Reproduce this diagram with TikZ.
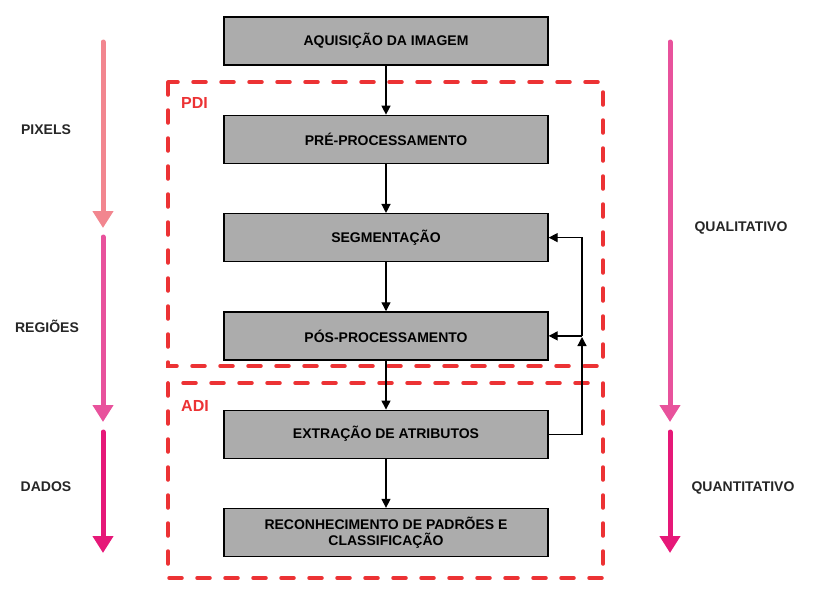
\documentclass[tikz,border=0pt]{standalone}
\usepackage{fontspec}
\setmainfont{Liberation Sans}
\usetikzlibrary{positioning,arrows.meta,calc}

\definecolor{boxgray}{RGB}{172,172,172}
\definecolor{dashred}{RGB}{236,50,52}
\definecolor{pinkA}{RGB}{242,134,143}
\definecolor{pinkB}{RGB}{232,82,156}
\definecolor{pinkC}{RGB}{230,24,120}

\begin{document}
\begin{tikzpicture}[
  x=1pt, y=-1pt,
  font=\fontsize{14}{16}\selectfont\bfseries,
  node distance=49pt,
  block/.style={draw=black, line width=1.3pt, fill=boxgray,
                minimum width=324pt, minimum height=48pt, align=center, inner sep=2pt},
  arr/.style={-{Triangle[length=9pt,width=9pt]}, line width=1.3pt},
  bigarr/.style={-{Triangle[length=17pt,width=20pt]}, line width=5pt, line cap=round},
  region/.style={draw=dashred, line width=3.5pt, dash pattern=on 13pt off 15pt, line cap=round},
  regionlbl/.style={text=dashred, font=\fontsize{16}{18}\selectfont\bfseries,
                anchor=west, inner sep=0pt},
  side/.style={text=black!85, inner sep=0pt}
]
\useasboundingbox (0,0) rectangle (814,592);

% ---- dashed regions ----
\draw[region] (168,82) rectangle (603,366);
\draw[region] (168,383) rectangle (603,578);
\node[regionlbl] (pdi) at (181,103) {PDI};
\node[regionlbl] (adi) at (181,406) {ADI};

% ---- processing chain ----
\node[block] (aquis) at (386,41) {AQUISIÇÃO DA IMAGEM};
\node[block, below=of aquis] (preproc) {PRÉ-PROCESSAMENTO};
\node[block, below=of preproc] (segm) {SEGMENTAÇÃO};
\node[block, below=of segm] (posproc) {PÓS-PROCESSAMENTO};
\node[block, below=of posproc] (extr) {EXTRAÇÃO DE ATRIBUTOS};
\node[block, below=of extr] (recon) {RECONHECIMENTO DE PADRÕES E\\CLASSIFICAÇÃO};

\draw[arr] (aquis) -- (preproc);
\draw[arr] (preproc) -- (segm);
\draw[arr] (segm) -- (posproc);
\draw[arr] (posproc) -- (extr);
\draw[arr] (extr) -- (recon);

% ---- feedback ----
\coordinate (fb) at (582,337);
\draw[arr] (extr.east) -| (fb);
\draw[arr] (fb |- posproc.east) -- (posproc.east);
\draw[arr] (fb |- posproc.east) |- (segm.east);

% ---- side arrows ----
\coordinate (l1) at (103,42);  \coordinate (l2) at (103,228);
\coordinate (l3) at (103,237); \coordinate (l4) at (103,422);
\coordinate (l5) at (103,432); \coordinate (l6) at (103,553);
\coordinate (r1) at (670,42);  \coordinate (r2) at (670,422);
\coordinate (r3) at (670,432); \coordinate (r4) at (670,553);
\draw[bigarr, pinkA] (l1) -- (l2);
\draw[bigarr, pinkB] (l3) -- (l4);
\draw[bigarr, pinkC] (l5) -- (l6);
\draw[bigarr, pinkB] (r1) -- (r2);
\draw[bigarr, pinkC] (r3) -- (r4);

\node[side] (pixels) at (46,130) {PIXELS};
\node[side] (regioes) at (47,326) {REGIÕES};
\node[side] (dados) at (46,487) {DADOS};
\node[side] (quali) at (741,228) {QUALITATIVO};
\node[side] (quanti) at (743,488) {QUANTITATIVO};
\end{tikzpicture}
\end{document}
